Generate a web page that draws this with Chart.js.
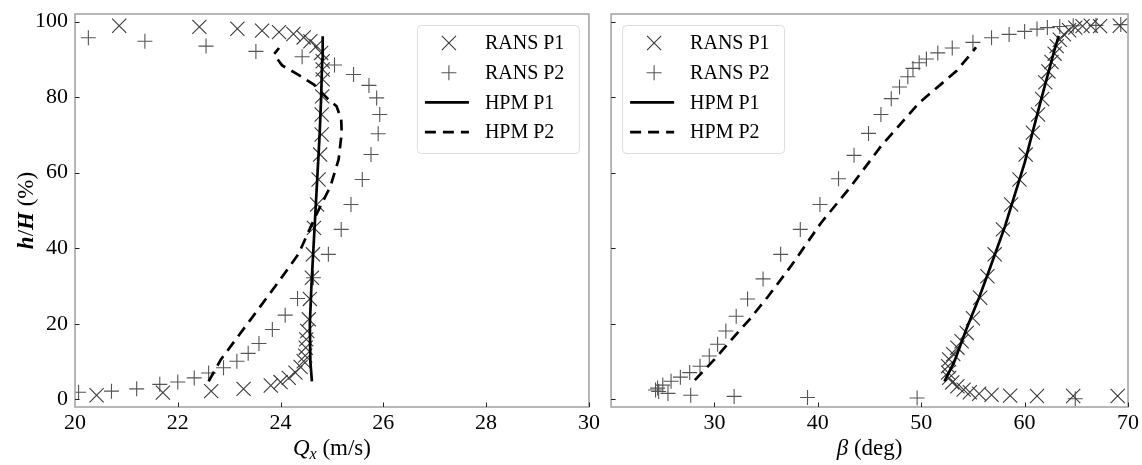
<!DOCTYPE html>
<html lang="en">
<head>
<meta charset="UTF-8" />
<title>Qx and beta profiles</title>
<script src="https://cdn.jsdelivr.net/npm/chart.js@4.4.1/dist/chart.umd.min.js"></script>
<style>
  body { margin: 0; background: #fff; }
  #wrap { position: relative; width: 1142px; height: 465px; }
  canvas { position: absolute; top: 0; }
  #left { left: 0; }
  #right { left: 600px; }
</style>
</head>
<body>
<div id="wrap">
  <canvas id="left" width="600" height="465"></canvas>
  <canvas id="right" width="542" height="465"></canvas>
</div>
<script>
// ---- left panel: Qx (m/s) vs h/H (%)
const qxP1Rans   = [20.42, 21.71, 22.65, 23.28, 23.81, 24.00, 24.16, 24.29, 24.39, 24.45, 24.48, 24.49, 24.50, 24.52, 24.55, 24.57, 24.61, 24.63, 24.65, 24.71, 24.74, 24.77, 24.80, 24.80, 24.81, 24.82, 24.82, 24.82, 24.79, 24.70, 24.58, 24.45, 24.25, 23.97, 23.64, 23.16, 22.42, 20.86];
const qxP1Height = [1.1, 1.8, 2.2, 2.8, 3.7, 4.6, 5.7, 7.1, 8.6, 10.1, 11.6, 13.7, 15.9, 18.1, 21.2, 26.6, 32.2, 38.4, 45.4, 51.6, 58.2, 64.8, 70.1, 75.4, 80.2, 84.7, 87.3, 89.5, 91.7, 93.5, 94.8, 95.8, 96.7, 97.2, 97.6, 98.1, 98.6, 98.9];

const qxP2Rans   = [20.07, 20.71, 21.20, 21.65, 22.00, 22.32, 22.60, 22.89, 23.15, 23.37, 23.58, 23.84, 24.09, 24.33, 24.64, 24.93, 25.18, 25.37, 25.59, 25.76, 25.90, 25.93, 25.87, 25.72, 25.42, 25.05, 24.42, 23.52, 22.55, 21.36, 20.26];
const qxP2Height = [1.9, 2.2, 2.8, 4.0, 4.6, 5.7, 7.0, 8.4, 10.1, 12.2, 14.8, 18.5, 22.3, 26.7, 32.2, 38.4, 45.0, 51.6, 58.2, 64.8, 70.3, 75.4, 79.8, 83.1, 86.0, 88.5, 90.7, 92.1, 93.5, 94.8, 95.7];

const qxHpmP1       = [24.61, 24.58, 24.57, 24.60, 24.64, 24.68, 24.72, 24.76, 24.79, 24.81, 24.82];
const qxHpmP1Height = [4.8, 10, 20, 30, 40, 50, 60, 70, 80, 90, 96.1];
const qxHpmP2       = [22.60, 22.84, 23.42, 23.97, 24.35, 24.68, 24.97, 25.13, 25.19, 25.18, 25.09, 24.93, 24.65, 24.35, 24.03, 23.87, 23.97];
const qxHpmP2Height = [4.8, 10.6, 21.2, 31.3, 38.5, 48.5, 56.4, 63.5, 70.6, 74.1, 77.6, 79.4, 83.3, 85.9, 88.4, 91.3, 93.0];

// ---- right panel: beta (deg) vs h/H (%)
const betaP1Rans   = [69.0, 64.7, 61.2, 58.6, 56.8, 55.6, 54.7, 54.1, 53.5, 53.0, 52.7, 52.6, 52.6, 52.7, 53.1, 53.5, 53.9, 54.4, 55.0, 55.7, 56.4, 57.1, 57.9, 58.7, 59.5, 60.1, 60.8, 61.3, 61.7, 62.0, 62.3, 62.6, 62.9, 63.1, 63.4, 63.8, 64.3, 64.9, 65.6, 66.4, 67.3, 69.2];
const betaP1Height = [0.9, 0.9, 0.9, 1.0, 1.2, 1.5, 1.9, 2.6, 3.5, 4.5, 5.7, 7.1, 8.8, 10.6, 12.0, 13.7, 15.4, 17.6, 21.5, 26.9, 32.6, 38.4, 45.0, 51.6, 58.2, 64.8, 70.6, 75.4, 79.5, 83.9, 86.8, 89.3, 91.5, 93.5, 95.2, 96.6, 97.7, 98.4, 98.8, 98.9, 98.8, 98.9];

const betaP2Rans   = [64.9, 49.6, 39.0, 31.9, 27.7, 25.5, 24.6, 24.3, 24.5, 25.0, 25.8, 26.7, 27.6, 28.6, 29.5, 30.3, 31.1, 32.1, 33.2, 34.7, 36.4, 38.3, 40.2, 42.0, 43.5, 44.9, 46.1, 47.1, 47.9, 48.7, 49.2, 49.8, 50.5, 51.6, 53.0, 55.0, 56.8, 58.5, 60.0, 61.2, 62.2, 63.4, 64.7, 66.9, 69.3];
const betaP2Height = [0.2, 0.4, 0.5, 0.8, 1.1, 1.6, 2.1, 2.5, 3.0, 3.8, 4.8, 5.9, 7.1, 8.8, 11.5, 14.6, 18.1, 22.0, 26.6, 31.9, 38.4, 45.0, 51.6, 58.4, 64.6, 70.4, 75.4, 79.6, 82.7, 85.4, 87.6, 89.1, 90.1, 91.7, 93.0, 94.5, 95.7, 96.6, 97.4, 98.0, 98.4, 98.7, 98.9, 99.0, 99.2];

const betaHpmP1       = [52.25, 53.2, 54.35, 55.6, 56.6, 58.1, 60.0, 61.6, 62.9, 63.3];
const betaHpmP1Height = [4.8, 10, 18.5, 27, 34.4, 45.8, 62.6, 79.4, 92.6, 96.2];
const betaHpmP2       = [28.1, 30.0, 31.8, 33.4, 35.2, 37.4, 40.3, 43.2, 46.1, 49.8, 51.3, 53.4, 55.0, 55.3];
const betaHpmP2Height = [5.1, 10.6, 16.3, 21.2, 27.3, 35.3, 46.7, 56.4, 67.0, 78.5, 82.0, 86.9, 92.1, 93.2];

const seriesLabels = ['RANS P1', 'RANS P2', 'HPM P1', 'HPM P2'];
const heightTicks = [0, 20, 40, 60, 80, 100];

const SERIF = "'Liberation Serif', 'DejaVu Serif', serif";
Chart.defaults.font.family = SERIF;
Chart.defaults.color = '#000';

const pts = (xs, ys) => xs.map((x, i) => ({ x: x, y: ys[i] }));

function makeDatasets(p1, h1, p2, h2, l1, lh1, l2, lh2) {
  return [
    { label: seriesLabels[0], data: pts(p1, h1), showLine: false, pointStyle: 'crossRot',
      pointRadius: 10, pointBorderWidth: 1.1, borderColor: '#3a3a3a', backgroundColor: '#3a3a3a', order: 2 },
    { label: seriesLabels[1], data: pts(p2, h2), showLine: false, pointStyle: 'cross',
      pointRadius: 7.5, pointBorderWidth: 1.1, borderColor: '#555', backgroundColor: '#555', order: 2 },
    { label: seriesLabels[2], data: pts(l1, lh1), showLine: true, pointRadius: 0,
      borderColor: '#000', borderWidth: 2.7, order: 1 },
    { label: seriesLabels[3], data: pts(l2, lh2), showLine: true, pointRadius: 0,
      borderColor: '#000', borderWidth: 2.7, borderDash: [11, 7], order: 1 }
  ];
}

// frame on all four sides + inward tick marks
const framePlugin = {
  id: 'frameBox',
  afterDatasetsDraw(chart) {
    const { ctx, chartArea: a, scales } = chart;
    ctx.save();
    ctx.strokeStyle = '#a6a6a6';
    ctx.lineWidth = 1.6;
    ctx.strokeRect(a.left, a.top, a.right - a.left, a.bottom - a.top);
    ctx.strokeStyle = '#222';
    ctx.lineWidth = 1;
    ctx.beginPath();
    scales.x.ticks.forEach(t => {
      if (t.value <= scales.x.min) return;
      const px = Math.round(scales.x.getPixelForValue(t.value)) + 0.5;
      ctx.moveTo(px, a.bottom);
      ctx.lineTo(px, a.bottom - 4.5);
    });
    heightTicks.forEach(v => {
      const py = Math.round(scales.y.getPixelForValue(v)) + 0.5;
      ctx.moveTo(a.left, py);
      ctx.lineTo(a.left + 4.5, py);
    });
    ctx.stroke();
    ctx.restore();
  }
};

// legend box inside the plot
const boxLegend = {
  id: 'boxLegend',
  afterDraw(chart, args, o) {
    const { ctx, chartArea: a } = chart;
    const w = 162, h = 128;
    const x0 = o.side === 'right' ? a.right - 10 - w : a.left + 11;
    const y0 = a.top + 11;
    ctx.save();
    ctx.beginPath();
    ctx.roundRect(x0 + 0.5, y0 + 0.5, w, h, 4);
    ctx.fillStyle = 'rgba(255,255,255,0.85)';
    ctx.fill();
    ctx.strokeStyle = '#dcdcdc';
    ctx.lineWidth = 1;
    ctx.stroke();
    chart.data.datasets.forEach((ds, i) => {
      const cy = y0 + 18 + i * 29.7;
      const mx = x0 + 32;
      ctx.strokeStyle = ds.borderColor;
      ctx.beginPath();
      if (ds.showLine) {
        ctx.lineWidth = ds.borderWidth;
        ctx.setLineDash(ds.borderDash || []);
        ctx.moveTo(x0 + 8, cy);
        ctx.lineTo(x0 + 52, cy);
      } else {
        ctx.lineWidth = ds.pointBorderWidth;
        ctx.setLineDash([]);
        const r = ds.pointRadius;
        if (ds.pointStyle === 'crossRot') {
          const d = r * Math.SQRT1_2;
          ctx.moveTo(mx - d, cy - d); ctx.lineTo(mx + d, cy + d);
          ctx.moveTo(mx - d, cy + d); ctx.lineTo(mx + d, cy - d);
        } else {
          ctx.moveTo(mx - r, cy); ctx.lineTo(mx + r, cy);
          ctx.moveTo(mx, cy - r); ctx.lineTo(mx, cy + r);
        }
      }
      ctx.stroke();
      ctx.setLineDash([]);
      ctx.fillStyle = '#000';
      ctx.font = '20px ' + SERIF;
      ctx.textBaseline = 'middle';
      ctx.fillText(ds.label, x0 + 68, cy + 1);
    });
    ctx.restore();
  }
};

// axis titles with italic symbols
function richText(ctx, parts, cx, cy, angle) {
  ctx.save();
  ctx.translate(cx, cy);
  ctx.rotate(angle || 0);
  ctx.fillStyle = '#000';
  ctx.textBaseline = 'alphabetic';
  let total = 0;
  parts.forEach(p => { ctx.font = p.font; p.w = ctx.measureText(p.text).width; total += p.w; });
  let x = -total / 2;
  parts.forEach(p => { ctx.font = p.font; ctx.fillText(p.text, x, 8 + (p.dy || 0)); x += p.w; });
  ctx.restore();
}

const axisTitles = {
  id: 'axisTitles',
  afterDraw(chart, args, o) {
    const { ctx, chartArea: a } = chart;
    richText(ctx, o.x, (a.left + a.right) / 2, 447, 0);
    if (o.y) richText(ctx, o.y, 25, (a.top + a.bottom) / 2, -Math.PI / 2);
  }
};

function makeOptions(xMin, xMax, xStep, showY, yWidth, padRight, legendSide, titleX, titleY) {
  return {
    responsive: false,
    animation: false,
    events: [],
    layout: { padding: { top: 14, right: padRight, left: 0, bottom: 0 } },
    scales: {
      x: {
        type: 'linear', min: xMin, max: xMax,
        grid: { display: false, drawTicks: false },
        border: { display: false },
        ticks: {
          stepSize: xStep, padding: 3, autoSkip: false, maxRotation: 0,
          font: { size: 22, family: SERIF }, color: '#000',
          callback: v => (v === xMin && xMin === 20 && xMax === 70) ? '' : v
        },
        afterFit: s => { s.height = 58; s.paddingLeft = 0; s.paddingRight = 0; }
      },
      y: {
        type: 'linear', min: -2, max: 102,
        grid: { display: false, drawTicks: false },
        border: { display: false },
        ticks: {
          display: showY, stepSize: 20, includeBounds: false, padding: 7,
          font: { size: 22, family: SERIF }, color: '#000'
        },
        afterFit: s => { s.width = yWidth; s.paddingTop = 0; s.paddingBottom = 0; }
      }
    },
    plugins: {
      legend: { display: false },
      tooltip: { enabled: false },
      boxLegend: { side: legendSide },
      axisTitles: { x: titleX, y: titleY }
    }
  };
}

const F = 23;
new Chart(document.getElementById('left'), {
  type: 'scatter',
  data: { datasets: makeDatasets(qxP1Rans, qxP1Height, qxP2Rans, qxP2Height, qxHpmP1, qxHpmP1Height, qxHpmP2, qxHpmP2Height) },
  options: makeOptions(20, 30, 2, true, 75, 8, 'right',
    [{ text: 'Q', font: 'italic ' + F + 'px ' + SERIF },
     { text: 'x', font: 'italic 16px ' + SERIF, dy: 4 },
     { text: ' (m/s)', font: F + 'px ' + SERIF }],
    [{ text: 'h', font: 'italic bold ' + F + 'px ' + SERIF },
     { text: '/', font: F + 'px ' + SERIF },
     { text: 'H', font: 'italic bold ' + F + 'px ' + SERIF },
     { text: ' (%)', font: F + 'px ' + SERIF }]),
  plugins: [framePlugin, boxLegend, axisTitles]
});

new Chart(document.getElementById('right'), {
  type: 'scatter',
  data: { datasets: makeDatasets(betaP1Rans, betaP1Height, betaP2Rans, betaP2Height, betaHpmP1, betaHpmP1Height, betaHpmP2, betaHpmP2Height) },
  options: makeOptions(20, 70, 10, false, 10, 14, 'left',
    [{ text: 'β', font: 'italic ' + F + 'px ' + SERIF },
     { text: ' (deg)', font: F + 'px ' + SERIF }],
    null),
  plugins: [framePlugin, boxLegend, axisTitles]
});
</script>
</body>
</html>
